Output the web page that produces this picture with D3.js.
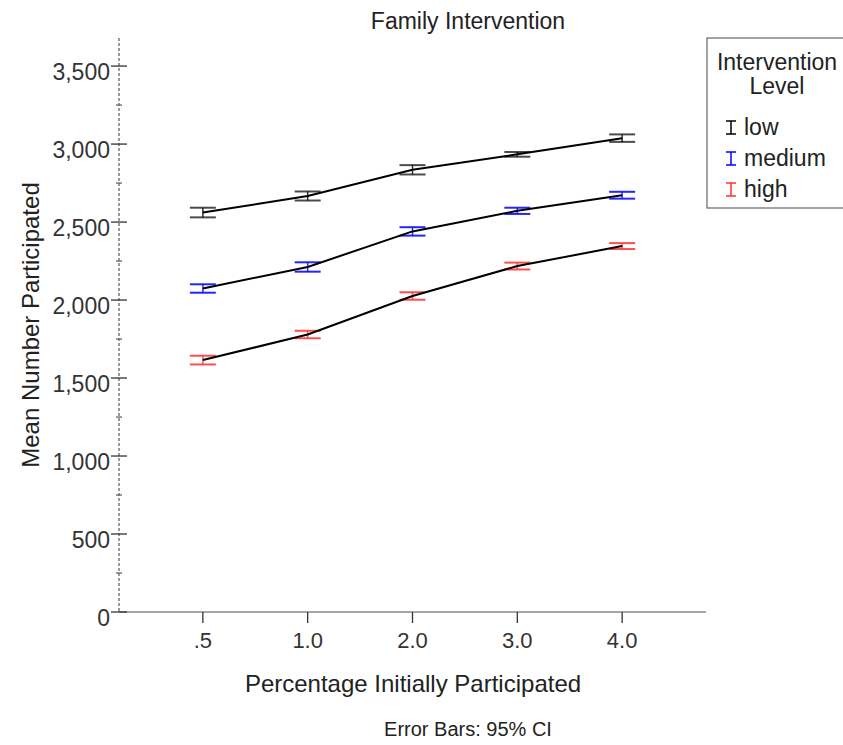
<!DOCTYPE html>
<html><head><meta charset="utf-8">
<script src="https://cdn.jsdelivr.net/npm/d3@7"></script>
<style>body{margin:0;background:#fff;} text{font-family:"Liberation Sans",Arial,sans-serif;}</style>
</head><body>
<svg id="chart" width="843" height="745"></svg>
<script>
const categories = [".5", "1.0", "2.0", "3.0", "4.0"];
const seriesNames = ["low", "medium", "high"];
const seriesColors = ["#000000", "#0000ff", "#ff3030"];
const lowMean = [2561, 2667, 2835, 2934, 3038];
const lowErr = [31, 29, 30, 15, 24];
const mediumMean = [2074, 2212, 2440, 2572, 2672];
const mediumErr = [27, 30, 27, 20, 22];
const highMean = [1615, 1779, 2026, 2218, 2346];
const highErr = [28, 24, 24, 22, 19];
const yTicks = [0, 500, 1000, 1500, 2000, 2500, 3000, 3500];
const yMinorTicks = [250, 750, 1250, 1750, 2250, 2750, 3250];

(function(){
const svg = d3.select("#chart");
const pL = 119, pR = 706, pT = 38, pB = 612;
const x = d3.scalePoint().domain(categories).range([pL, pR]).padding(0.8);
const y = d3.scaleLinear().domain([0, 3680]).range([pB, pT]);
const fmt = d3.format(",");

svg.append("line").attr("x1", pL).attr("x2", pL).attr("y1", pT).attr("y2", pB)
  .attr("stroke", "#999").attr("stroke-width", 2).attr("stroke-dasharray", "3,2");
svg.append("line").attr("x1", pL).attr("x2", pR).attr("y1", pB).attr("y2", pB)
  .attr("stroke", "#888").attr("stroke-width", 1.5);

svg.selectAll(".ymaj").data(yTicks).enter().append("line")
  .attr("x1", pL - 8).attr("x2", pL + 8).attr("y1", d => y(d)).attr("y2", d => y(d))
  .attr("stroke", "#333").attr("stroke-width", 1.3);
svg.selectAll(".ymin").data(yMinorTicks).enter().append("line")
  .attr("x1", pL - 3).attr("x2", pL + 3).attr("y1", d => y(d)).attr("y2", d => y(d))
  .attr("stroke", "#666").attr("stroke-width", 1.3);
svg.selectAll(".ylab").data(yTicks).enter().append("text")
  .attr("x", pL - 9).attr("y", d => y(d) + 14).attr("text-anchor", "end")
  .attr("font-size", 23).attr("fill", "#333").text(d => fmt(d));

svg.selectAll(".xt").data(categories).enter().append("line")
  .attr("x1", d => x(d)).attr("x2", d => x(d)).attr("y1", pB).attr("y2", pB + 11)
  .attr("stroke", "#333").attr("stroke-width", 1.3);
svg.selectAll(".xlab").data(categories).enter().append("text")
  .attr("x", d => x(d)).attr("y", pB + 36).attr("text-anchor", "middle")
  .attr("font-size", 22).attr("fill", "#333").text(d => d);

svg.append("text").attr("x", 468).attr("y", 29).attr("text-anchor", "middle")
  .attr("font-size", 23).attr("fill", "#222").text("Family Intervention");
svg.append("text").attr("x", 413).attr("y", 692).attr("text-anchor", "middle")
  .attr("font-size", 24).attr("fill", "#222").text("Percentage Initially Participated");
svg.append("text").attr("transform", "translate(39,325) rotate(-90)").attr("text-anchor", "middle")
  .attr("font-size", 24).attr("fill", "#222").text("Mean Number Participated");
svg.append("text").attr("x", 468).attr("y", 736).attr("text-anchor", "middle")
  .attr("font-size", 20).attr("fill", "#222").text("Error Bars: 95% CI");

const series = [
  {name: seriesNames[0], color: seriesColors[0], mean: lowMean, err: lowErr},
  {name: seriesNames[1], color: seriesColors[1], mean: mediumMean, err: mediumErr},
  {name: seriesNames[2], color: seriesColors[2], mean: highMean, err: highErr}
];
const line = d3.line().x((d, i) => x(categories[i])).y(d => y(d));
series.forEach(s => {
  const g = svg.append("g");
  const pts = categories.map((c, i) => ({c, m: s.mean[i], e: s.err[i]}));
  g.selectAll(".v").data(pts).enter().append("line")
    .attr("x1", d => x(d.c)).attr("x2", d => x(d.c)).attr("y1", d => y(d.m - d.e)).attr("y2", d => y(d.m + d.e))
    .attr("stroke", s.color).attr("stroke-width", 1.5).attr("opacity", 0.8);
  [1, -1].forEach(sg => {
    g.selectAll(".cap").data(pts).enter().append("line")
      .attr("x1", d => x(d.c) - 13).attr("x2", d => x(d.c) + 13)
      .attr("y1", d => y(d.m + sg * d.e)).attr("y2", d => y(d.m + sg * d.e))
      .attr("stroke", s.color).attr("stroke-width", 2).attr("opacity", s.name === "low" ? 0.7 : 0.85);
  });
  g.append("path").datum(s.mean).attr("d", line).attr("fill", "none")
    .attr("stroke", "#000").attr("stroke-width", 2);
});

const lg = svg.append("g");
lg.append("rect").attr("x", 707).attr("y", 38).attr("width", 140).attr("height", 170)
  .attr("fill", "#fff").attr("stroke", "#666").attr("stroke-width", 1.2);
lg.append("text").attr("x", 777).attr("y", 70).attr("text-anchor", "middle").attr("font-size", 23).attr("fill", "#222").text("Intervention");
lg.append("text").attr("x", 777).attr("y", 94).attr("text-anchor", "middle").attr("font-size", 23).attr("fill", "#222").text("Level");
series.forEach((s, i) => {
  const by = 135 + i * 31;
  const gx = 731;
  lg.append("line").attr("x1", gx).attr("x2", gx).attr("y1", by - 14).attr("y2", by - 1).attr("stroke", s.color).attr("stroke-width", 1.5);
  lg.append("line").attr("x1", gx - 5).attr("x2", gx + 5).attr("y1", by - 14).attr("y2", by - 14).attr("stroke", s.color).attr("stroke-width", 1.5);
  lg.append("line").attr("x1", gx - 5).attr("x2", gx + 5).attr("y1", by - 1).attr("y2", by - 1).attr("stroke", s.color).attr("stroke-width", 1.5);
  lg.append("text").attr("x", 744).attr("y", by).attr("font-size", 23).attr("fill", "#222").text(s.name);
});
})();
</script>
</body></html>
